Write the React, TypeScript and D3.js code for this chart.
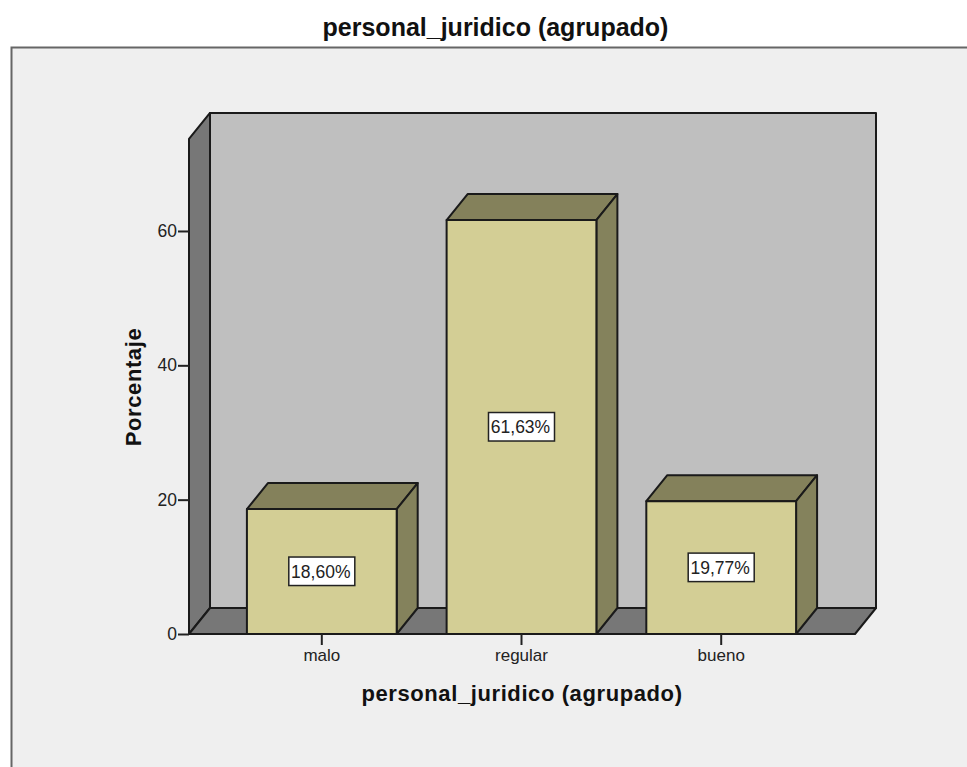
import React, { useEffect, useRef } from 'react';
import * as d3 from 'd3';

const categories = ['malo', 'regular', 'bueno'];
const percentages = [18.6, 61.63, 19.77];
const percentLabels = ['18,60%', '61,63%', '19,77%'];
const yTicks = [0, 20, 40, 60];

const chartTitle = 'personal_juridico (agrupado)';
const yTitle = 'Porcentaje';

const FONT = '"Liberation Sans", Arial, sans-serif';
const left = 189, right = 855, bottom = 634;
const depthX = 21, depthY = 26;
const topValue = 73.7;

const pts = (p: number[][]) => p.map(d => d.join(',')).join(' ');

const App = () => {
    const yAxisRef = useRef<SVGGElement>(null);
    const xAxisRef = useRef<SVGGElement>(null);

    const yScale = d3.scaleLinear().domain([0, topValue]).range([bottom, bottom - topValue * 6.717]);
    const xScale = d3.scaleBand<string>().domain(categories).range([left, right - 1]).paddingInner(0.25).paddingOuter(0.29);
    const barWidth = xScale.bandwidth();
    const top = yScale(topValue);

    useEffect(() => {
        const yAxis = d3.axisLeft(yScale).tickValues(yTicks).tickSize(11).tickSizeOuter(0).tickPadding(1);
        const yg = d3.select(yAxisRef.current!).call(yAxis as any);
        yg.select('.domain').remove();
        yg.selectAll('line').attr('stroke', '#222').attr('stroke-width', 2);
        yg.selectAll('text').attr('font-size', 17.5).attr('font-family', FONT).attr('fill', '#222');

        const xAxis = d3.axisBottom(xScale).tickSize(11).tickSizeOuter(0).tickPadding(4);
        const xg = d3.select(xAxisRef.current!).call(xAxis as any);
        xg.select('.domain').remove();
        xg.selectAll('line').attr('stroke', '#222').attr('stroke-width', 2);
        xg.selectAll('text').attr('font-size', 17).attr('font-family', FONT).attr('fill', '#222');
    }, []);

    return (
        <svg width={967} height={767} style={{ position: 'absolute', left: 0, top: 0 }}>
            <rect width={967} height={767} fill="#ffffff" />
            <rect x={11.5} y={47.5} width={970} height={730} fill="#efefef" stroke="#666666" strokeWidth={2} />
            <text x={495.5} y={36} textAnchor="middle" fontFamily={FONT} fontWeight="bold" fontSize={25} fill="#111">{chartTitle}</text>

            <g stroke="#1a1a1a" strokeWidth={2} strokeLinejoin="round">
                {/* back wall */}
                <rect x={left + depthX} y={top - depthY} width={right - left} height={bottom - top} fill="#bfbfbf" />
                {/* left wall */}
                <polygon fill="#777777" points={pts([[left, top], [left + depthX, top - depthY], [left + depthX, bottom - depthY], [left, bottom]])} />
                {/* floor */}
                <polygon fill="#777777" points={pts([[left, bottom], [left + depthX, bottom - depthY], [right + depthX, bottom - depthY], [right, bottom]])} />

                {categories.map((c, i) => {
                    const x0 = xScale(c)!;
                    const x1 = x0 + barWidth;
                    const y0 = yScale(percentages[i]);
                    return (
                        <g key={c}>
                            <polygon fill="#84815b" points={pts([[x0, y0], [x0 + depthX, y0 - depthY], [x1 + depthX, y0 - depthY], [x1, y0]])} />
                            <polygon fill="#84825c" points={pts([[x1, y0], [x1 + depthX, y0 - depthY], [x1 + depthX, bottom - depthY], [x1, bottom]])} />
                            <rect x={x0} y={y0} width={barWidth} height={bottom - y0} fill="#d3ce95" />
                        </g>
                    );
                })}
            </g>

            <line x1={left} x2={right} y1={bottom} y2={bottom} stroke="#1a1a1a" strokeWidth={2} />
            <g ref={yAxisRef} transform={`translate(${left},0)`} />
            <g ref={xAxisRef} transform={`translate(0,${bottom})`} />

            {categories.map((c, i) => {
                const cx = xScale(c)! + barWidth / 2;
                const cy = (yScale(percentages[i]) + bottom) / 2;
                return (
                    <g key={c}>
                        <rect x={cx - 33} y={cy - 14.5} width={66} height={28.5} fill="#ffffff" stroke="#222" strokeWidth={1.5} />
                        <text x={cx - 1} y={cy + 6} textAnchor="middle" fontFamily={FONT} fontSize={17.5} fill="#222">{percentLabels[i]}</text>
                    </g>
                );
            })}

            <text x={522} y={701} textAnchor="middle" fontFamily={FONT} fontWeight="bold" fontSize={22} letterSpacing={0.6} fill="#111">{chartTitle}</text>
            <text transform="translate(140.5,387) rotate(-90)" textAnchor="middle" fontFamily={FONT} fontWeight="bold" fontSize={22} letterSpacing={0.6} fill="#111">{yTitle}</text>
        </svg>
    );
};

export default App;
